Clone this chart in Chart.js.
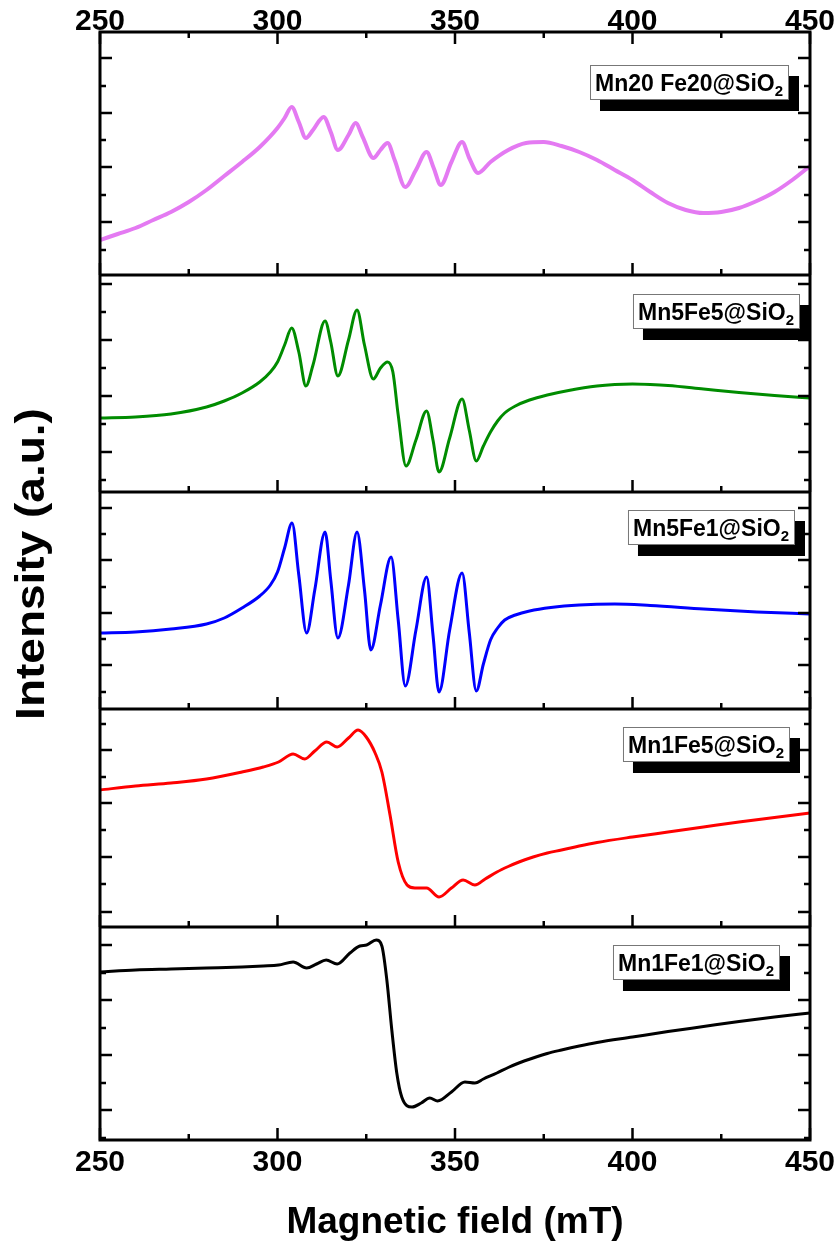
<!DOCTYPE html>
<html><head><meta charset="utf-8">
<script src="https://cdn.jsdelivr.net/npm/chart.js@4.4.0/dist/chart.umd.min.js"></script>
<style>html,body{margin:0;padding:0;background:#fff}#wrap{width:838px;height:1247px}</style>
</head><body><div id="wrap"><canvas id="c" width="838" height="1247"></canvas></div>
<script>
// ---- data ----
const fieldTicksMajor = [250, 300, 350, 400, 450];
const fieldTicksMinor = [275, 325, 375, 425];

const mn20Field = [250,255,260,265,270,275,280,285,290,295,300,302,304,306,308,310,313,315,317,320,322,324,327,329,331,333,336,339,342,344,346,349,352,354,356.5,360,365,370,375,380,385,390,395,400,405,410,415,420,425,430,435,440,445,450];
const mn20Int   = [35,41,47,55,63,73,85,99,113,128,147,157,168,153,137,145,158,143,125,140,152,138,117,125,132,115,88,105,123,107,90,113,133,117,102,113,125,132,133,129,123,115,105,95,83,72,65,62,63,67,74,83,95,109];

const mn5fe5Field = [250,260,270,280,285,290,295,298,300,302,304,306,308,310,313.4,315,317,320,322.4,324.5,327,329,331,332.5,334,336.2,339,342,343.8,345.5,348.5,352,354,356,358,360,362,364,367,371,376,382,390,395,400,405,410,420,430,440,450];
const mn5fe5Int   = [74,75,78,85,91,99,110,120,130,147,164,140,106,127,171,150,116,152,182,147,113,124,130,120,77,26,52,81,52,20,54,93,62,31,46,60,71,79,86,92,97,101.5,106,107.5,108,107.5,106.5,103,99.5,96.5,94];

const mn5fe1Field = [250,260,270,280,285,290,295,298,300,302,304.1,306,308.2,310.5,313.4,315,317,320,322.4,324.5,326.3,329,332,334,336,339,342,343.8,345.5,348.5,352,354,356,358,360,362,364,367,371,377,385,395,405,420,435,450];
const mn5fe1Int   = [76,77,80,85,91,101,113,124,137,161,186,134,76,119,177,129,71,124,177,119,59,104,152,89,23,79,132,74,17,79,136,77,18,45,69,81,89,94,98,101.5,104,105,103.5,100,97,95];

const mn1fe5Field = [250,260,270,280,290,296,300.3,304.4,307.7,310.5,313.9,316.8,320,322.7,325,327.5,329.4,331.7,334,336.5,338.7,342,345.5,349,352.3,355.6,358.5,361.8,365,368,372,376,380,385,390,400,410,420,430,440,450];
const mn1fe5Int   = [137,141,144,148,155,160,165,173,168,176,185,180,189,197,190,174,155,112,65,42,39,39,30,39,47,42,48,55,60.5,65,70,74,77,81,84.5,90,95,100,105,109.5,114];

const mn1fe1Field = [250,260,270,280,290,296,300.3,304.4,308.2,311,313.7,316.8,320.4,323.2,325.1,327.8,329.4,330.8,332.2,333.6,335,337.9,340.5,342.9,345.1,349,352.8,355.6,358,361.8,365,368,372,376,380,385,390,400,410,420,430,440,450];
const mn1fe1Int   = [168,170,171,172,173,174,175,178,172,176,180,176,187,194,195,200,194,160,110,67,43,33,37,42,39,48,58,57,61,67,72.5,77,82,86.5,90,94,97.5,103,108.5,113.5,118.5,123,127];

const sampleNames = ['Mn20 Fe20@SiO', 'Mn5Fe5@SiO', 'Mn5Fe1@SiO', 'Mn1Fe5@SiO', 'Mn1Fe1@SiO'];
const sampleSub = '2';
const panelMax = [243, 217, 217, 218, 213];
const yTicksMajor = [[217,162,108,53],[208,152,96,40],[201,149,96,44],[177,124,70,15],[195,140,85,30]];
const yTicksMinor = [[189,135,80,25],[180,124,68,12],[175,122,70,17],[203,150,97,43],[167,112,57,2]];

// ---- styles ----
const FONT = '"Liberation Sans", Arial, Helvetica, sans-serif';
const colors = ['#E47AF2', '#008C00', '#0000FF', '#FF0000', '#000000'];
const labelRightOff = [21, 10, 15, 20, 30];
const labelTopOff = [33, 19, 18, 18, 18];

const seriesF = [mn20Field, mn5fe5Field, mn5fe1Field, mn1fe5Field, mn1fe1Field];
const seriesI = [mn20Int, mn5fe5Int, mn5fe1Int, mn1fe5Int, mn1fe1Int];

const datasets = seriesF.map((f, i) => ({
  label: sampleNames[i] + sampleSub,
  data: f.map((b, k) => ({x: b, y: seriesI[i][k]})),
  yAxisID: 'y' + i,
  xAxisID: 'x',
  borderColor: colors[i],
  backgroundColor: colors[i],
  borderWidth: i === 0 ? 4 : 3,
  pointRadius: 0,
  cubicInterpolationMode: 'monotone',
  fill: false
}));

function noSidePad(s, h) { s.height = h; s.paddingLeft = 0; s.paddingRight = 0; }

const scales = {
  x: {
    type: 'linear', position: 'bottom', min: 250, max: 450,
    afterBuildTicks: s => { s.ticks = fieldTicksMajor.map(v => ({value: v})); },
    ticks: {autoSkip: false, maxRotation: 0, color: '#000', padding: 8,
            font: {family: FONT, size: 30, weight: 'bold', lineHeight: 1}},
    grid: {display: false, drawTicks: false}, border: {display: false},
    title: {display: true, text: 'Magnetic field (mT)', color: '#000',
            font: {family: FONT, size: 37, weight: 'bold', lineHeight: 1}, padding: {top: 0, bottom: 6}},
    afterFit: s => noSidePad(s, 107)
  },
  x2: {
    type: 'linear', position: 'top', min: 250, max: 450,
    afterBuildTicks: s => { s.ticks = fieldTicksMajor.map(v => ({value: v})); },
    ticks: {autoSkip: false, maxRotation: 0, color: '#000', padding: -5,
            font: {family: FONT, size: 30, weight: 'bold', lineHeight: 1}},
    grid: {display: false, drawTicks: false}, border: {display: false},
    afterFit: s => noSidePad(s, 32)
  }
};
for (let i = 4; i >= 0; i--) {
  scales['y' + i] = {
    type: 'linear', position: 'left', stack: 'panels', stackWeight: panelMax[i],
    min: 0, max: panelMax[i],
    ticks: {display: false}, grid: {display: false, drawTicks: false}, border: {display: false},
    afterFit: s => { s.width = 0; s.paddingTop = 0; s.paddingBottom = 0; }
  };
}

const framePlugin = {
  id: 'frame',
  afterDraw(chart) {
    const ctx = chart.ctx;
    const a = chart.chartArea;
    const xs = chart.scales.x;
    ctx.save();
    ctx.strokeStyle = '#000';
    ctx.lineCap = 'butt';
    ctx.lineWidth = 2.5;
    const MAJ = 12, MIN = 6;
    for (let i = 0; i < 5; i++) {
      const ys = chart.scales['y' + i];
      const bottom = ys.getPixelForValue(0);
      const top = ys.getPixelForValue(panelMax[i]);
      ctx.beginPath();
      fieldTicksMajor.forEach(v => { const px = xs.getPixelForValue(v); ctx.moveTo(px, bottom); ctx.lineTo(px, bottom - MAJ); });
      fieldTicksMinor.forEach(v => { const px = xs.getPixelForValue(v); ctx.moveTo(px, bottom); ctx.lineTo(px, bottom - MIN); });
      if (i === 0) {
        fieldTicksMajor.forEach(v => { const px = xs.getPixelForValue(v); ctx.moveTo(px, top); ctx.lineTo(px, top + MAJ); });
        fieldTicksMinor.forEach(v => { const px = xs.getPixelForValue(v); ctx.moveTo(px, top); ctx.lineTo(px, top + MIN); });
      }
      yTicksMajor[i].forEach(v => { const py = ys.getPixelForValue(v); ctx.moveTo(a.left, py); ctx.lineTo(a.left + MAJ, py); ctx.moveTo(a.right, py); ctx.lineTo(a.right - MAJ, py); });
      yTicksMinor[i].forEach(v => { const py = ys.getPixelForValue(v); ctx.moveTo(a.left, py); ctx.lineTo(a.left + MIN, py); ctx.moveTo(a.right, py); ctx.lineTo(a.right - MIN, py); });
      ctx.stroke();
    }
    ctx.lineWidth = 3;
    ctx.strokeRect(a.left, a.top, a.right - a.left, a.bottom - a.top);
    ctx.beginPath();
    for (let i = 0; i < 4; i++) {
      const py = chart.scales['y' + i].getPixelForValue(0);
      ctx.moveTo(a.left, py); ctx.lineTo(a.right, py);
    }
    ctx.stroke();
    for (let i = 0; i < 5; i++) {
      const ys = chart.scales['y' + i];
      const ptop = ys.getPixelForValue(panelMax[i]);
      ctx.font = 'bold 23px ' + FONT;
      const w1 = ctx.measureText(sampleNames[i]).width;
      ctx.font = 'bold 15px ' + FONT;
      const w2 = ctx.measureText(sampleSub).width;
      const w = w1 + w2 + 11, h = 35;
      const right = a.right - labelRightOff[i];
      const left = right - w, top = ptop + labelTopOff[i];
      ctx.fillStyle = '#000';
      ctx.fillRect(left + 10, top + 11, w, h);
      ctx.fillStyle = '#fff';
      ctx.fillRect(left, top, w, h);
      ctx.lineWidth = 1; ctx.strokeStyle = '#777';
      ctx.strokeRect(left + 0.5, top + 0.5, w - 1, h - 1);
      ctx.fillStyle = '#000';
      ctx.textBaseline = 'alphabetic'; ctx.textAlign = 'left';
      ctx.font = 'bold 23px ' + FONT;
      ctx.fillText(sampleNames[i], left + 5, top + 26);
      ctx.font = 'bold 15px ' + FONT;
      ctx.fillText(sampleSub, left + 5 + w1, top + 31);
    }
    ctx.translate(33, 564);
    ctx.rotate(-Math.PI / 2);
    ctx.scale(1.15, 1);
    ctx.textAlign = 'center'; ctx.textBaseline = 'middle';
    ctx.fillStyle = '#000';
    ctx.font = 'bold 40px ' + FONT;
    ctx.fillText('Intensity (a.u.)', 0, 0);
    ctx.restore();
  }
};

new Chart(document.getElementById('c'), {
  type: 'line',
  data: {datasets},
  options: {
    responsive: false, animation: false, devicePixelRatio: 1,
    layout: {padding: {left: 100, right: 28, top: 0, bottom: 0}},
    plugins: {legend: {display: false}, tooltip: {enabled: false}},
    scales
  },
  plugins: [framePlugin]
});
</script></body></html>
